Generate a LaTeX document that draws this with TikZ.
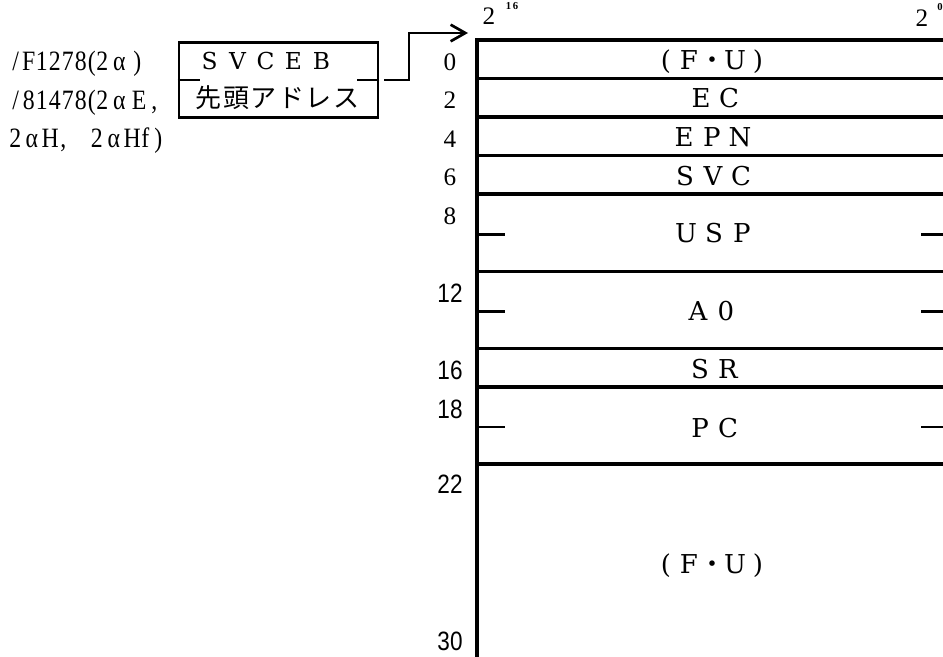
\documentclass[tikz,border=0pt]{standalone}
\usepackage{fontspec}
\setmainfont{DejaVu Serif}
\newfontfamily\numf{Liberation Serif}
\newfontfamily\sidef[FakeStretch=0.85]{Liberation Serif}
\newfontfamily\sansf[FakeStretch=0.85]{Liberation Sans}
\newfontfamily\cjk{Noto Sans CJK JP}
\usetikzlibrary{arrows.meta}
\newdimen\upx \upx=0.75pt
\newcommand\chx[2]{\makebox[#1\upx]{#2}}
\def\cells#1#2{\def\cellw{#1}\cellsx#2\relax}
\def\cellsx#1{\ifx#1\relax\else\makebox[\cellw\upx]{#1}\expandafter\cellsx\fi}
\newcommand\fu{\chx{23}{(}\chx{23}{F}\chx{23}{\cjk ・}\chx{23}{U}\chx{23}{)}}
\tikzset{
  field/.style={inner sep=0pt, font=\fontsize{19.5}{22}\selectfont, text height=14.2pt, text depth=0pt},
  addr/.style={inner sep=0pt, font=\numf\fontsize{18.9}{22}\selectfont, text height=12.8pt, text depth=0pt},
  addrw/.style={inner sep=0pt, font=\sansf\fontsize{19.9}{22}\selectfont, text height=14.25pt, text depth=0pt},
  hdr/.style={inner sep=0pt, font=\numf\fontsize{18.9}{22}\selectfont, text height=12.8pt, text depth=0pt},
  sup/.style={inner sep=0pt, font=\numf\bfseries\fontsize{8}{9}\selectfont},
  side/.style={inner sep=0pt, anchor=base west, font=\sidef\fontsize{21}{24}\selectfont},
  memrule/.style={line width=2.7pt, line cap=rect},
  tick/.style={line width=2pt},
  regbox/.style={draw, line width=2.2pt, minimum width=199\upx, minimum height=75\upx, inner sep=0pt},
  conn/.style={line width=2pt, -{Straight Barb[length=11pt, width=12.5pt, line width=2pt]}},
}
\begin{document}
\begin{tikzpicture}[x=0.75pt,y=-0.75pt]
\useasboundingbox (0,0) rectangle (943,657);
\clip (0,0) rectangle (943,657);

% memory map
\foreach \a in {0,2,4,6,8,12,16,18,22}
  \draw[memrule] (477,{40+19.28*\a}) -- (950,{40+19.28*\a});
\draw[memrule] (477,658.5) -- (950,658.5);
\draw[memrule] (477,40) -- (477,662);

% half-word ticks in 4-byte fields
\foreach \a in {10,14,20}{
  \draw[tick] (477,{41.5+19.28*\a}) -- (505,{41.5+19.28*\a});
  \draw[tick] (921,{41.5+19.28*\a}) -- (950,{41.5+19.28*\a});
}

% field names
\node[field] (f0) at (712,60) {\fu};
\node[field] (f2) at (715,98.5) {\cells{28}{EC}};
\node[field] (f4) at (712,137) {\cells{28}{EPN}};
\node[field] (f6) at (713,176) {\cells{28}{SVC}};
\node[field] (f8) at (714,233.5) {\cells{28}{USP}};
\node[field] (f12) at (712,311) {\cells{28}{A0}};
\node[field] (f16) at (714,369) {\cells{28}{SR}};
\node[field] (f18) at (714,428) {\cells{28}{PC}};
\node[field] (f22) at (712,564) {\fu};

% offsets
\foreach \a in {0,2,4,6,8}
  \node[addr] (ad\a) at (450,{40+19.28*\a+21.5}) {\a};
\foreach \a/\yy in {12/292.5,16/370,18/409,22/484,30/641}
  \node[addrw] (ad\a) at (450,\yy) {\a};

% bit numbers
\node[hdr] (b15) at (489,16) {2};
\node[sup] (b15s) at (512,6) {1\,6};
\node[hdr] (b0) at (922,18) {2};
\node[sup] (b0s) at (940,7) {0};

% SVCEB register pair
\node[regbox] (svbox) at (278.5,80) {};
\node[inner sep=0pt, font=\fontsize{17.5}{22}\selectfont, text height=12.75pt, text depth=0pt] (svceb) at (265.5,60.5) {\cells{28}{SVCEB}};
\node[inner sep=0pt, anchor=base, font=\cjk\fontsize{19.5}{24}\selectfont] (addrlbl) at (277.5,107.5) {\cells{27.5}{先頭アドレス}};
\draw[tick] (svbox.west) -- ++(22,0);
\draw[tick] (svbox.east) -- ++(-22,0);

% pointer arrow
\coordinate (tip) at (468,33);
\draw[conn] ([xshift=3.5pt]svbox.east) -- ++(25,0) |- (tip);

% side notes
\node[side] (n1) at (9,70) {\cells{13}{/F1278}\chx{9}{(}\chx{12}{2}\chx{22}{α}\chx{14}{)}};
\node[side] (n2) at (9,109) {\cells{13}{/81478}\chx{9}{(}\chx{12}{2}\chx{22}{α}\chx{18}{E}\chx{12}{,}};
\node[side] (n3) at (9,147.5) {\chx{12}{2}\chx{21}{α}\chx{16}{H}\chx{10}{,}\hspace{22\upx}\chx{13}{2}\chx{21}{α}\chx{16}{H}\chx{10}{f}\chx{16}{)}};
\end{tikzpicture}
\end{document}
